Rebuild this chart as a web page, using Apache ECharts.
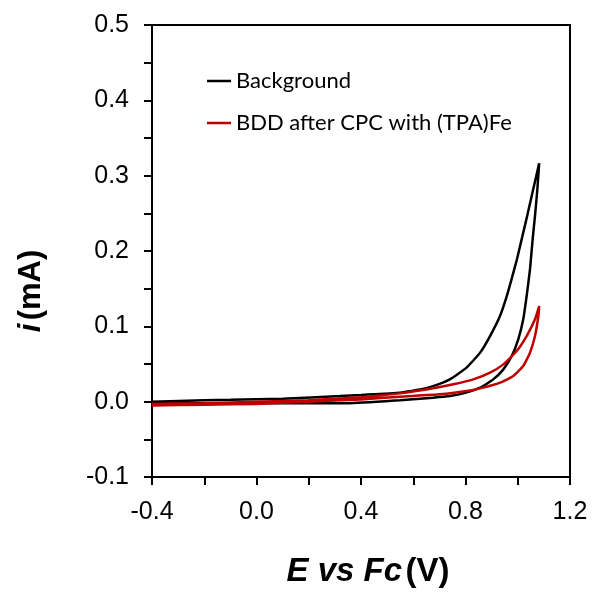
<!DOCTYPE html>
<html><head><meta charset="utf-8">
<script src="https://cdn.jsdelivr.net/npm/echarts@6/dist/echarts.min.js"></script>
<style>html,body{margin:0;padding:0;background:#fff}#c{width:593px;height:592px}</style>
</head><body><div id="c"></div>
<script>
// Background CV loop: forward (lower/inner) branch then reverse (upper/outer) branch
const bgE = [-0.40,-0.20,0.00,0.20,0.35,0.549,0.676,0.740,0.791,0.856,0.906,0.945,0.977,1.002,1.021,1.034,1.047,1.057,1.066,1.075,1.082,
             1.059,1.036,1.015,0.997,0.978,0.958,0.932,0.894,0.856,0.804,0.740,0.676,0.613,0.549,0.40,0.32,0.10,-0.10,-0.20,-0.40];
const bgI = [-0.002,-0.002,-0.002,-0.002,-0.002,0.002,0.0053,0.0074,0.011,0.0186,0.0296,0.0429,0.0606,0.0827,0.1093,0.1402,0.1760,0.2155,0.2465,0.2816,0.3165,
             0.2816,0.2465,0.2155,0.1891,0.1647,0.1402,0.1137,0.0871,0.0651,0.0452,0.0296,0.0207,0.0154,0.0120,0.0090,0.0075,0.0040,0.0025,0.0020,0.0000];
// BDD after CPC with (TPA)Fe loop: lower branch then upper branch
const redE = [-0.40,-0.20,0.00,0.20,0.40,0.549,0.702,0.804,0.868,0.932,0.983,1.021,1.047,1.066,1.079,1.082,
              1.066,1.034,0.996,0.945,0.894,0.830,0.753,0.676,0.549,0.40,0.20,0.00,-0.20,-0.40];
const redI = [-0.005,-0.004,-0.003,0.000,0.003,0.0066,0.0097,0.0141,0.0186,0.0252,0.0340,0.0473,0.0651,0.0871,0.1137,0.127,
              0.1093,0.0871,0.0672,0.0495,0.0385,0.0296,0.0230,0.0177,0.0110,0.0060,0.0020,0.000,-0.002,-0.003];
const seriesNames = ['Background','BDD after CPC with (TPA)Fe'];
const xTickLabels = ['-0.4','0.0','0.4','0.8','1.2'];
const yTickLabels = ['-0.1','0.0','0.1','0.2','0.3','0.4','0.5'];

const zip = (a,b) => a.map((v,i)=>[v,b[i]]);
const chart = echarts.init(document.getElementById('c'), null, {renderer:'canvas'});
const tickFont = {fontFamily:'Liberation Sans, Arial', fontSize:25, color:'#000'};
chart.setOption({
  animation:false,
  backgroundColor:'#fff',
  grid:{left:152, top:25, right:23, bottom:115, show:true, borderColor:'#000', borderWidth:2, backgroundColor:'transparent'},
  legend:{
    orient:'vertical', left:207, top:69, padding:0, itemGap:18,
    icon:'rect', itemWidth:24, itemHeight:2.5,
    textStyle:{fontFamily:'Lato', fontSize:22, color:'#000', lineHeight:24},
    data: seriesNames
  },
  xAxis:{
    type:'value', min:-0.4, max:1.2, interval:0.2,
    axisLine:{onZero:false, lineStyle:{color:'#000', width:2}},
    axisTick:{inside:false, length:8, lineStyle:{color:'#000', width:2}},
    splitLine:{show:false},
    axisLabel:{margin:23, ...tickFont,
      formatter:v=>{ const s=v.toFixed(1); return xTickLabels.includes(s)?s:''; }}
  },
  yAxis:{
    type:'value', min:-0.1, max:0.5, interval:0.1,
    axisLine:{onZero:false, lineStyle:{color:'#000', width:2}},
    axisTick:{inside:false, length:8, lineStyle:{color:'#000', width:2}},
    minorTick:{show:true, splitNumber:2, length:8, lineStyle:{color:'#000', width:2}},
    splitLine:{show:false},
    axisLabel:{margin:23, ...tickFont,
      formatter:v=>{ const s=v.toFixed(1); return yTickLabels.includes(s)?s:''; }}
  },
  graphic:[
    {type:'text', x:368, y:572, style:{
      text:'{bi|E vs Fc} {b|(V)}', align:'center', verticalAlign:'middle',
      rich:{bi:{fontFamily:'Liberation Sans, Arial', fontSize:33, fontWeight:'bold', fontStyle:'italic', fill:'#000'},
            b:{fontFamily:'Liberation Sans, Arial', fontSize:33, fontWeight:'bold', fill:'#000'}}
    }},
    {type:'text', x:31, y:291, rotation:Math.PI/2, style:{
      text:'{bi|i} {b|(mA)}', align:'center', verticalAlign:'middle',
      rich:{bi:{fontFamily:'Liberation Sans, Arial', fontSize:31, fontWeight:'bold', fontStyle:'italic', fill:'#000'},
            b:{fontFamily:'Liberation Sans, Arial', fontSize:31, fontWeight:'bold', fill:'#000'}}
    }}
  ],
  series:[
    {name:seriesNames[0], type:'line', data:zip(bgE,bgI), showSymbol:false, smooth:0.15,
     lineStyle:{color:'#000', width:2.5}, itemStyle:{color:'#000'}},
    {name:seriesNames[1], type:'line', data:zip(redE,redI), showSymbol:false, smooth:0.15,
     lineStyle:{color:'#c00000', width:2.5}, itemStyle:{color:'#c00000'}}
  ]
});
</script></body></html>
